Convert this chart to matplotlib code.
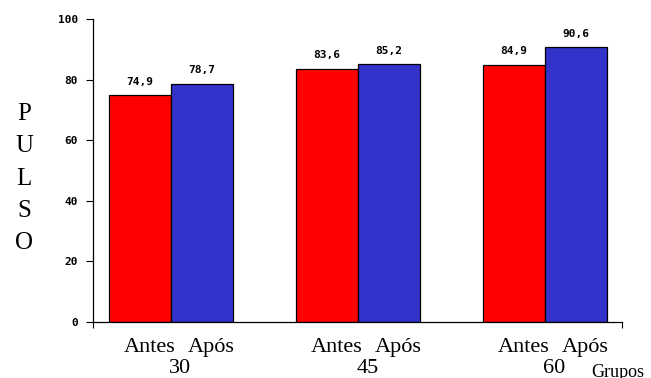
import matplotlib.pyplot as plt
import numpy as np

grupos = ["30", "45", "60"]
antes = [74.9, 83.6, 84.9]
apos = [78.7, 85.2, 90.6]
yticks = [0, 20, 40, 60, 80, 100]

fig = plt.figure(figsize=(6.51, 3.78), dpi=100)
ax = fig.add_axes([0.1429, 0.1481, 0.8126, 0.8016])

x = np.arange(len(grupos))
w = 1 / 3
b1 = ax.bar(x - w / 2, antes, w, color="#FF0000", edgecolor="black", linewidth=0.9)
b2 = ax.bar(x + w / 2, apos, w, color="#3333CC", edgecolor="black", linewidth=0.9)

mono = dict(family="DejaVu Sans Mono", weight="bold", size=8)
for bars, vals in ((b1, antes), (b2, apos)):
    for r, v in zip(bars, vals):
        ax.annotate(f"{v:.1f}".replace(".", ","), (r.get_x() + r.get_width() / 2, v),
                    xytext=(0, 6), textcoords="offset points", ha="center", va="bottom", **mono)

ax.set_xlim(-0.417, 2.412)
ax.set_ylim(0, 100)
ax.set_yticks(yticks)
ax.set_yticklabels([str(t) for t in yticks], **mono)
ax.tick_params(axis="y", direction="out", length=5, width=0.8, pad=6)
ax.set_xticks([-0.417, 2.412])
ax.set_xticklabels(["", ""])
ax.tick_params(axis="x", direction="out", length=4, width=0.8)
for s in ("top", "right"):
    ax.spines[s].set_visible(False)
for s in ("left", "bottom"):
    ax.spines[s].set_linewidth(0.9)

serif = dict(family="Liberation Serif", size=16)
tr = ax.get_xaxis_transform()
for i, g in enumerate(grupos):
    ax.text(i - w / 2 + 0.05, -0.085, "Antes", ha="center", va="center", transform=tr, **serif)
    ax.text(i + w / 2 + 0.05, -0.085, "Após", ha="center", va="center", transform=tr, **serif)
    ax.text(i + 0.05, -0.152, g, ha="center", va="center", transform=tr, **serif)
ax.text(2.25, -0.165, "Grupos", ha="left", va="center", transform=tr,
        family="Liberation Serif", size=13)

for k, ch in enumerate("PULSO"):
    fig.text(24 / 651, 1 - (114 + 32.3 * k) / 378, ch, ha="center", va="center",
             family="Liberation Serif", size=18)

fig.savefig("out.png", dpi=100)
